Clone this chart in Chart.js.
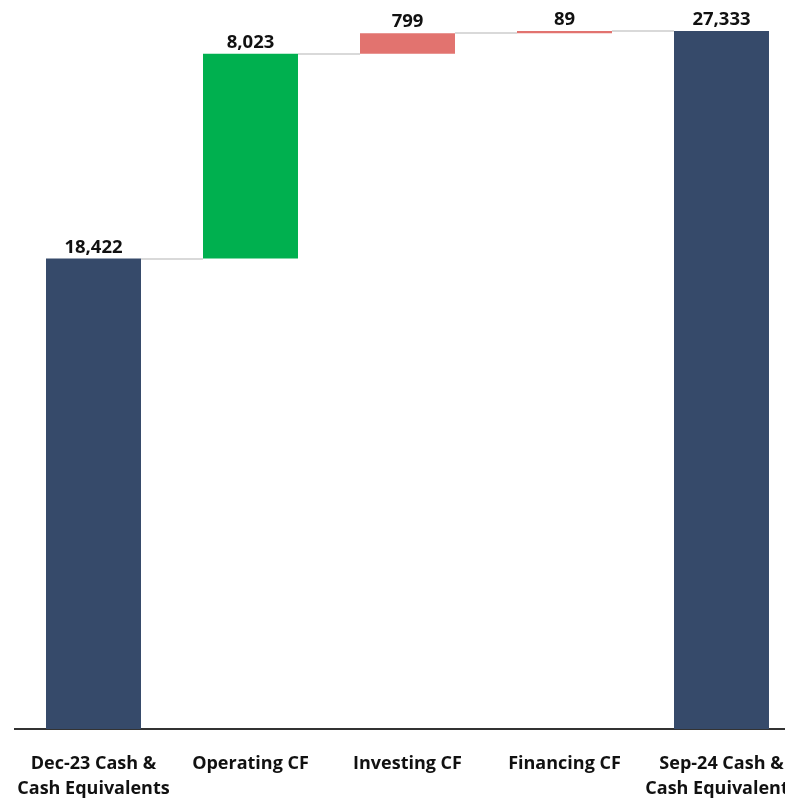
<!DOCTYPE html>
<html lang="en">
<head>
    <meta charset="UTF-8">
    <script src="https://cdn.jsdelivr.net/npm/chart.js"></script>
    <title>Cash Waterfall</title>
    <style>
        html, body {
            margin: 0;
            padding: 0;
            background: #fff;
            overflow: hidden;
        }

        #waterfall {
            display: block;
            width: 800px;
            height: 798px;
        }
    </style>
</head>
<body>
    <canvas id="waterfall" width="800" height="798"></canvas>
    <script>
        // dados do gráfico
        const categorias = [
            ['Dec-23 Cash &', 'Cash Equivalents'],
            'Operating CF',
            'Investing CF',
            'Financing CF',
            ['Sep-24 Cash &', 'Cash Equivalents']
        ];
        const valores = [18422, 8023, 799, 89, 27333];
        const tipos = ['total', 'up', 'down', 'down', 'total'];
        const cores = { total: '#364a6a', up: '#00b04f', down: '#e2736f' };

        // monta as barras flutuantes
        let acumulado = 0;
        const barras = valores.map(function (v, i) {
            if (tipos[i] === 'total') {
                acumulado = v;
                return [0, v];
            }
            const inicio = acumulado;
            acumulado += v;
            return [inicio, acumulado];
        });

        const fonte = "'Open Sans', sans-serif";

        const conectores = {
            id: 'conectores',
            beforeDatasetsDraw(chart) {
                const ctx = chart.ctx;
                const meta = chart.getDatasetMeta(0);
                const y = chart.scales.y;
                ctx.save();
                ctx.strokeStyle = '#d9d9d9';
                ctx.lineWidth = 2;
                for (let i = 0; i < barras.length - 1; i++) {
                    const a = meta.data[i];
                    const b = meta.data[i + 1];
                    const py = Math.round(y.getPixelForValue(barras[i][1]));
                    ctx.beginPath();
                    ctx.moveTo(a.x + a.width / 2, py);
                    ctx.lineTo(b.x - b.width / 2, py);
                    ctx.stroke();
                }
                ctx.restore();
            }
        };

        const rotulos = {
            id: 'rotulos',
            afterDatasetsDraw(chart) {
                const ctx = chart.ctx;
                const meta = chart.getDatasetMeta(0);
                const y = chart.scales.y;
                ctx.save();
                ctx.fillStyle = '#111';
                ctx.font = 'bold 18.5px ' + fonte;
                ctx.textAlign = 'center';
                ctx.textBaseline = 'bottom';
                meta.data.forEach(function (bar, i) {
                    const topo = y.getPixelForValue(Math.max(barras[i][0], barras[i][1]));
                    ctx.fillText(valores[i].toLocaleString('en-US'), bar.x, topo - 2);
                });
                ctx.restore();
            }
        };

        new Chart(document.getElementById('waterfall'), {
            type: 'bar',
            data: {
                labels: categorias,
                datasets: [{
                    data: barras,
                    backgroundColor: tipos.map(t => cores[t]),
                    borderWidth: 0,
                    categoryPercentage: 1,
                    barPercentage: 0.605
                }]
            },
            options: {
                responsive: false,
                animation: false,
                layout: {
                    padding: { left: 15, right: 0, top: 14, bottom: 0 }
                },
                plugins: {
                    legend: { display: false },
                    tooltip: { enabled: false }
                },
                scales: {
                    x: {
                        grid: { display: false, drawTicks: false },
                        border: { display: true, color: '#333', width: 2 },
                        ticks: {
                            color: '#111',
                            padding: 22,
                            maxRotation: 0,
                            autoSkip: false,
                            font: { family: fonte, size: 18, weight: 'bold', lineHeight: 1.4 }
                        },
                        afterFit(scale) {
                            scale.height = 69;
                            // deixa o rótulo da ponta sair da tela, como no original
                            scale.paddingLeft = 0;
                            scale.paddingRight = 0;
                        }
                    },
                    y: {
                        display: false,
                        min: 0,
                        max: 28000
                    }
                }
            },
            plugins: [conectores, rotulos]
        });
    </script>
</body>
</html>
